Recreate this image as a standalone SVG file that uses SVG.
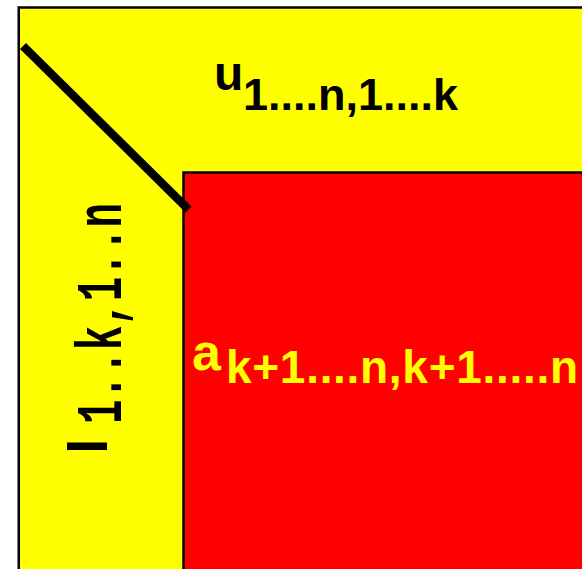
<svg xmlns="http://www.w3.org/2000/svg" width="582" height="569" viewBox="0 0 582 569">
<style>
.box{stroke:#000;stroke-width:2.5}
.sans{font-family:"Liberation Sans",Arial,sans-serif;font-weight:bold}
.mono{font-family:"Liberation Mono","Courier New",monospace;font-weight:bold}
.blk{fill:#000}
.ylw{fill:#ffff00}
</style>
<rect width="582" height="569" fill="#fff"/>
<g id="upper">
<rect class="box" x="18.75" y="7.5" width="570" height="570" fill="#ffff00"/>
<text class="sans blk" x="214" y="90" font-size="48">u</text>
<text class="sans blk" x="243" y="110" font-size="45">1....n,1....k</text>
</g>
<g id="lower-label">
<text class="sans blk" font-size="56" transform="translate(107,454) rotate(-90)">l</text>
<text class="mono blk" font-size="64" textLength="221" lengthAdjust="spacingAndGlyphs" transform="translate(121,424) rotate(-90)">1..k,1..n</text>
</g>
<g id="remainder">
<rect class="box" x="183.5" y="172.5" width="420" height="420" fill="#ff0000"/>
<text class="sans ylw" x="192" y="370" font-size="52">a</text>
<text class="sans ylw" x="226" y="383" font-size="46" textLength="352" lengthAdjust="spacing">k+1....n,k+1.....n</text>
</g>
<g id="connectors">
<line x1="23" y1="46" x2="188.5" y2="209.5" stroke="#000" stroke-width="8.5"/>
</g>
</svg>
